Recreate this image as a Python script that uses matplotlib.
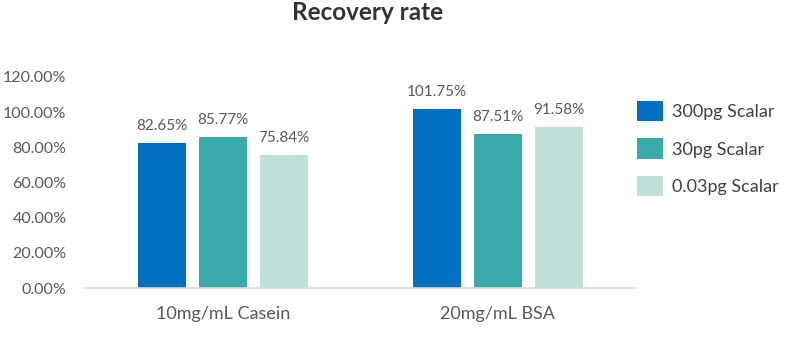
import numpy as np
import matplotlib.pyplot as plt
from matplotlib.patches import Patch

plt.rcParams['font.family'] = ['Lato', 'DejaVu Sans']

categories = ['10mg/mL Casein', '20mg/mL BSA']
series = ['300pg Scalar', '30pg Scalar', '0.03pg Scalar']
values = [
    [82.65, 101.75],
    [85.77, 87.51],
    [75.84, 91.58],
]
colors = ['#0070C0', '#3AABAA', '#BEE0D8']
yticks = [0, 20, 40, 60, 80, 100, 120]

fig = plt.figure(figsize=(8, 3.41), dpi=100)
ax = fig.add_axes([86 / 800, 1 - 288 / 341, 549 / 800, (288 - 77) / 341])

x = np.arange(len(categories))
width = 0.175
step = 0.222
for i, (name, vals, col) in enumerate(zip(series, values, colors)):
    pos = x + (i - 1) * step
    bars = ax.bar(pos, vals, width, color=col, label=name)
    for b, v in zip(bars, vals):
        ax.annotate(f'{v:.2f}%', (b.get_x() + b.get_width() / 2, v),
                    xytext=(0, 7), textcoords='offset points',
                    ha='center', va='bottom', fontsize=11, color='#595959')

ax.set_xlim(-0.5, 1.5)
ax.set_ylim(0, 120)
ax.set_yticks(yticks)
ax.set_yticklabels([f'{t:.2f}%' for t in yticks])
ax.set_xticks(x)
ax.set_xticklabels(categories)
ax.tick_params(axis='both', length=0, labelsize=11.5, labelcolor='#595959')
ax.tick_params(axis='x', labelsize=13, pad=13)
ax.tick_params(axis='y', pad=14)
for s in ['top', 'right', 'left']:
    ax.spines[s].set_visible(False)
ax.spines['bottom'].set_color('#D9D9D9')
ax.spines['bottom'].set_linewidth(1.2)

fig.text(368 / 800, 1 - 12 / 341, 'Recovery rate', ha='center', va='center',
         fontsize=17.5, fontweight='bold', color='#333333')

handles = [Patch(facecolor=c, edgecolor='none') for c in colors]
fig.legend(handles, series, loc='upper left',
           bbox_to_anchor=(637 / 800, 1 - 101 / 341),
           frameon=False, fontsize=13, handlelength=1.45, handleheight=1.35,
           handletextpad=0.5, labelspacing=0.95, borderpad=0, borderaxespad=0,
           labelcolor='#404040')

fig.savefig('out.png', dpi=100)
